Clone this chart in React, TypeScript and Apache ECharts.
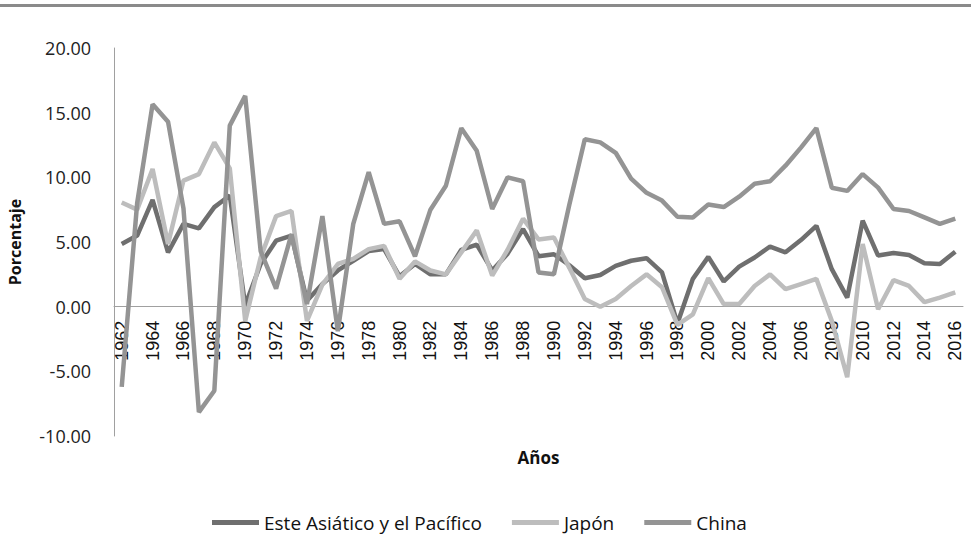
import React, { useEffect, useRef } from "react";
import * as echarts from "echarts";

const years: string[] = [
  "1962", "1963", "1964", "1965", "1966", "1967", "1968", "1969", "1970", "1971",
  "1972", "1973", "1974", "1975", "1976", "1977", "1978", "1979", "1980", "1981",
  "1982", "1983", "1984", "1985", "1986", "1987", "1988", "1989", "1990", "1991",
  "1992", "1993", "1994", "1995", "1996", "1997", "1998", "1999", "2000", "2001",
  "2002", "2003", "2004", "2005", "2006", "2007", "2008", "2009", "2010", "2011",
  "2012", "2013", "2014", "2015", "2016",
];

const asiaPacific: number[] = [
  4.85, 5.5, 8.25, 4.2, 6.4, 6.05, 7.7, 8.6, 0.1, 3.3,
  5.1, 5.5, 0.45, 1.75, 2.8, 3.55, 4.3, 4.45, 2.35, 3.3,
  2.5, 2.5, 4.4, 4.8, 2.8, 4.1, 6.0, 3.9, 4.05, 3.2,
  2.2, 2.45, 3.15, 3.55, 3.75, 2.65, -1.3, 2.15, 3.85, 1.95,
  3.1, 3.8, 4.65, 4.2, 5.15, 6.25, 2.9, 0.7, 6.65, 3.95,
  4.15, 4.0, 3.35, 3.3, 4.25,
];

const japan: number[] = [
  8.05, 7.5, 10.65, 4.85, 9.75, 10.25, 12.7, 10.7, -1.1, 3.8,
  7.0, 7.4, -1.1, 1.7, 3.3, 3.7, 4.45, 4.7, 2.15, 3.5,
  2.8, 2.5, 4.2, 5.9, 2.4, 4.4, 6.8, 5.2, 5.35, 3.0,
  0.6, 0.0, 0.6, 1.6, 2.5, 1.5, -1.4, -0.6, 2.2, 0.2,
  0.2, 1.6, 2.5, 1.35, 1.75, 2.15, -1.1, -5.45, 4.85, -0.2,
  2.05, 1.6, 0.35, 0.7, 1.1,
];

const china: number[] = [
  -6.2, 8.0, 15.65, 14.3, 7.6, -8.15, -6.5, 14.0, 16.3, 4.3,
  1.4, 5.6, 0.2, 7.0, -1.9, 6.4, 10.4, 6.4, 6.6, 3.9,
  7.5, 9.35, 13.8, 12.05, 7.55, 10.0, 9.7, 2.65, 2.5, 7.9,
  12.95, 12.7, 11.9, 9.9, 8.8, 8.2, 6.95, 6.9, 7.9, 7.7,
  8.5, 9.5, 9.7, 10.9, 12.3, 13.8, 9.2, 8.95, 10.25, 9.2,
  7.55, 7.4, 6.9, 6.4, 6.8,
];

const seriesNames = ["Este Asiático y el Pacífico", "Japón", "China"];
const seriesColors = ["#6f6f6f", "#bdbdbd", "#949494"];

const Y_MIN = -10;
const Y_MAX = 20;
const GRID_TOP = 48;
const GRID_BOTTOM = 108;
const CHART_H = 544;

export default function App() {
  const ref = useRef<HTMLDivElement>(null);

  useEffect(() => {
    if (!ref.current) return;
    const chart = echarts.init(ref.current, undefined, { renderer: "svg" });
    const datasets = [asiaPacific, japan, china];
    const plotH = CHART_H - GRID_TOP - GRID_BOTTOM;
    // shift the category axis up so it sits on the zero line
    const zeroShift = -(plotH * (0 - Y_MIN)) / (Y_MAX - Y_MIN);
    chart.setOption({
      animation: false,
      backgroundColor: "#ffffff",
      grid: {
        left: 114,
        right: 8,
        top: GRID_TOP,
        bottom: GRID_BOTTOM,
        containLabel: false,
        outerBoundsMode: "none",
      },
      graphic: [
        {
          type: "rect",
          shape: { x: 0, y: 4, width: 971, height: 3 },
          style: { fill: "#8a8a8a" },
        },
      ],
      legend: {
        left: 207,
        top: 508,
        icon: "rect",
        itemWidth: 47,
        itemHeight: 5,
        itemGap: 30,
        data: seriesNames,
        textStyle: { fontFamily: "Open Sans", fontSize: 19, color: "#111" },
      },
      xAxis: {
        type: "category",
        data: years,
        boundaryGap: true,
        offset: zeroShift,
        axisLine: { onZero: false, lineStyle: { color: "#a0a0a0", width: 1 } },
        axisTick: { show: false },
        axisLabel: {
          rotate: 90,
          interval: 1,
          margin: 14,
          fontFamily: "Liberation Sans",
          fontSize: 18,
          color: "#111",
        },
        name: "Años",
        nameLocation: "middle",
        nameGap: 142,
        nameTextStyle: {
          fontFamily: "Open Sans",
          fontWeight: "bold",
          fontSize: 17,
          color: "#111",
        },
      },
      yAxis: {
        type: "value",
        min: Y_MIN,
        max: Y_MAX,
        interval: 5,
        axisLine: { show: true, lineStyle: { color: "#a0a0a0", width: 1 } },
        axisTick: { show: false },
        splitLine: { show: false },
        axisLabel: {
          formatter: (v: number) => v.toFixed(2),
          margin: 23,
          fontFamily: "Open Sans",
          fontSize: 18,
          color: "#222",
        },
        name: "Porcentaje",
        nameLocation: "middle",
        nameRotate: 90,
        nameGap: 91,
        nameTextStyle: {
          fontFamily: "Open Sans",
          fontWeight: "bold",
          fontSize: 16,
          color: "#111",
        },
      },
      series: seriesNames.map((name, i) => ({
        name,
        type: "line",
        data: datasets[i],
        showSymbol: false,
        symbol: "none",
        lineStyle: { color: seriesColors[i], width: 4.5 },
        itemStyle: { color: seriesColors[i] },
      })),
    });
    return () => chart.dispose();
  }, []);

  return (
    <div
      ref={ref}
      style={{ position: "absolute", left: 0, top: 0, width: 971, height: 544 }}
    />
  );
}
